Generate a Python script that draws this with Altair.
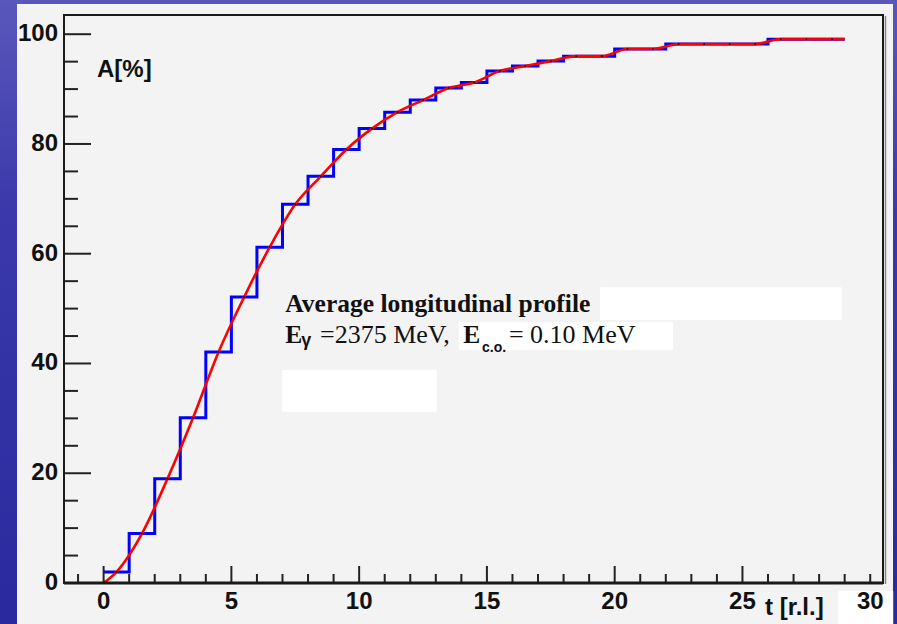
import altair as alt
import pandas as pd

# ---------------- data ----------------
bin_lo = list(range(0, 29))                      # lower bin edges (width 1 r.l.)
hist_a = [2.0, 9.0, 19.0, 30.1, 42.1, 52.1, 61.2, 69.0, 74.1, 79.0,
          82.8, 85.8, 88.0, 90.2, 91.2, 93.3, 94.2, 95.1, 96.0, 96.0,
          97.3, 97.3, 98.2, 98.2, 98.2, 98.2, 99.1, 99.1, 99.1]

curve_t = [0.0, 0.5, 1.5, 2.5, 3.5, 4.5, 5.5, 6.5, 7.5, 8.5, 9.5, 10.5,
           11.5, 12.5, 13.5, 14.5, 15.5, 16.5, 17.5, 18.5, 19.5, 20.5,
           21.5, 22.5, 23.5, 24.5, 25.5, 26.5, 27.5, 28.5, 29.0]
curve_a = [0.0, 2.0, 9.0, 19.0, 30.1, 42.1, 52.1, 61.2, 69.0, 74.1, 79.0,
           82.8, 85.8, 88.0, 90.2, 91.2, 93.3, 94.2, 95.1, 96.0, 96.0,
           97.3, 97.3, 98.2, 98.2, 98.2, 98.2, 99.1, 99.1, 99.1, 99.1]

x_labels = [0, 5, 10, 15, 20, 25, 30]
x_major = [0, 5, 10, 15, 20, 25]
x_minor = [-1, 1, 2, 3, 4, 6, 7, 8, 9, 11, 12, 13, 14, 16, 17, 18, 19,
           21, 22, 23, 24, 26, 27, 28, 29, 30]
y_major = [0, 20, 40, 60, 80, 100]
y_minor = [5, 10, 15, 25, 30, 35, 45, 50, 55, 65, 70, 75, 85, 90, 95]
x_title = "t [r.l.]"
y_title = "A[%]"

# annotation text pieces
ann_text = ["Average longitudinal profile", "E", "γ", "=2375 MeV,", "E", "c.o.", "= 0.10 MeV"]
ann_t = [7.11, 7.11, 7.73, 8.47, 14.07, 14.81, 15.86]
ann_a = [49.38, 43.68, 43.19, 43.68, 43.68, 42.15, 43.68]
ann_kind = ["serifbold", "serifbold", "sansbold", "serif", "serifbold", "sanssub", "serif"]

# white patches seen in the picture
patch_t1 = [19.43, 6.99, 13.90, 28.74]
patch_t2 = [28.89, 13.04, 22.28, 30.90]
patch_a1 = [53.88, 38.81, 47.56, -1.46]
patch_a2 = [47.92, 31.21, 42.46, -7.47]

# ---------------- chart ----------------
W, H = 819, 568
xs = alt.Scale(domain=[-1.55, 30.5], nice=False, zero=False)
ys = alt.Scale(domain=[0, 103.5], nice=False, zero=False)
LABEL_FONT = "Liberation Sans"
INK = "#111111"

one = pd.DataFrame({"k": [0]})

bg = alt.Chart(one).mark_rect(
    color=alt.Gradient(
        gradient="linear", x1=0, y1=0, x2=0, y2=1,
        stops=[alt.GradientStop(color="#5a57bb", offset=0),
               alt.GradientStop(color="#3a38aa", offset=0.35),
               alt.GradientStop(color="#2a2a9e", offset=1)])
).encode(x=alt.value(-64), x2=alt.value(W + 14), y=alt.value(-15), y2=alt.value(H + 41))

panel = alt.Chart(one).mark_rect(color="#f3f3f3").encode(
    x=alt.value(-47), x2=alt.value(829), y=alt.value(-11), y2=alt.value(H + 41))

patches = alt.Chart(pd.DataFrame({"t1": patch_t1, "t2": patch_t2,
                                  "a1": patch_a1, "a2": patch_a2})).mark_rect(color="#ffffff").encode(
    x=alt.X("t1:Q", scale=xs, axis=None), x2="t2:Q",
    y=alt.Y("a1:Q", scale=ys, axis=None), y2="a2:Q")

hist_df = pd.DataFrame({"t": bin_lo + [29], "a": hist_a + [hist_a[-1]]})
hist = alt.Chart(hist_df).mark_line(color="#0000ff", strokeWidth=3, interpolate="step-after").encode(
    x=alt.X("t:Q", scale=xs, axis=None), y=alt.Y("a:Q", scale=ys, axis=None))

curve = alt.Chart(pd.DataFrame({"t": curve_t, "a": curve_a})).mark_line(
    color="#ff0000", strokeWidth=2.6, interpolate="monotone").encode(
    x=alt.X("t:Q", scale=xs, axis=None), y=alt.Y("a:Q", scale=ys, axis=None))

dots = alt.Chart(pd.DataFrame({"t": curve_t[1:-1], "a": curve_a[1:-1]})).mark_square(
    color=INK, size=3, opacity=0.9).encode(
    x=alt.X("t:Q", scale=xs, axis=None), y=alt.Y("a:Q", scale=ys, axis=None))

tick_col = "#222222"
ymaj = alt.Chart(pd.DataFrame({"v": y_major})).mark_rule(color=tick_col, strokeWidth=2).encode(
    y=alt.Y("v:Q", scale=ys, axis=None), x=alt.value(0), x2=alt.value(27))
ymin = alt.Chart(pd.DataFrame({"v": y_minor})).mark_rule(color=tick_col, strokeWidth=2).encode(
    y=alt.Y("v:Q", scale=ys, axis=None), x=alt.value(0), x2=alt.value(14))
xmaj = alt.Chart(pd.DataFrame({"v": x_major})).mark_rule(color=tick_col, strokeWidth=2).encode(
    x=alt.X("v:Q", scale=xs, axis=None), y=alt.value(H), y2=alt.value(H - 17))
xmin = alt.Chart(pd.DataFrame({"v": x_minor})).mark_rule(color=tick_col, strokeWidth=2).encode(
    x=alt.X("v:Q", scale=xs, axis=None), y=alt.value(H), y2=alt.value(H - 9))

# tick labels drawn through the scales
ylab = alt.Chart(pd.DataFrame({"v": y_major})).mark_text(
    align="right", baseline="middle", font=LABEL_FONT, fontWeight="bold",
    fontSize=24, color=INK).encode(
    y=alt.Y("v:Q", scale=ys, axis=None), x=alt.value(-6), text="v:Q")
xlab = alt.Chart(pd.DataFrame({"v": x_labels})).mark_text(
    align="center", baseline="top", font=LABEL_FONT, fontWeight="bold",
    fontSize=24, color=INK).encode(
    x=alt.X("v:Q", scale=xs, axis=None), y=alt.value(H + 7), text="v:Q")

ytitle = alt.Chart(pd.DataFrame({"s": [y_title]})).mark_text(
    align="left", baseline="alphabetic", font=LABEL_FONT, fontWeight="bold",
    fontSize=24, color=INK).encode(x=alt.value(33), y=alt.value(62), text="s:N")
xtitle = alt.Chart(pd.DataFrame({"s": [x_title]})).mark_text(
    align="left", baseline="alphabetic", font=LABEL_FONT, fontWeight="bold",
    fontSize=24, color=INK).encode(x=alt.value(701), y=alt.value(H + 32), text="s:N")

frame = alt.Chart(one).mark_rect(filled=False, stroke="#1a1a1a", strokeWidth=2).encode(
    x=alt.value(0), x2=alt.value(W), y=alt.value(0), y2=alt.value(H))
bottom_line = alt.Chart(one).mark_rule(color="#1a1a1a", strokeWidth=3).encode(
    x=alt.value(0), x2=alt.value(W), y=alt.value(H))
right_shadow = alt.Chart(one).mark_rule(color="#888888", strokeWidth=1.5).encode(
    x=alt.value(W + 2.5), y=alt.value(1), y2=alt.value(H + 1))

ann_df = pd.DataFrame({"t": ann_t, "a": ann_a, "txt": ann_text, "kind": ann_kind})
def ann_layer(kind, **kw):
    return alt.Chart(ann_df).transform_filter(alt.datum.kind == kind).mark_text(
        align="left", baseline="alphabetic", color=INK, **kw).encode(
        x=alt.X("t:Q", scale=xs, axis=None), y=alt.Y("a:Q", scale=ys, axis=None), text="txt:N")

t_serifbold = ann_layer("serifbold", font="Liberation Serif", fontWeight="bold", fontSize=25.5)
t_serif = ann_layer("serif", font="Liberation Serif", fontWeight="normal", fontSize=26)
t_gamma = ann_layer("sansbold", font="Liberation Sans", fontWeight="bold", fontSize=18)
t_sub = ann_layer("sanssub", font="Liberation Sans", fontWeight="bold", fontSize=14)

chart = alt.layer(
    bg, panel, patches, hist, curve, dots, ymaj, ymin, xmaj, xmin,
    right_shadow, frame, bottom_line, ylab, xlab, ytitle, xtitle,
    t_serifbold, t_serif, t_gamma, t_sub
).properties(
    width=W, height=H,
    autosize=alt.AutoSizeParams(type="none"),
    padding={"left": 64, "top": 15, "right": 14, "bottom": 41},
    background="#2a2a9e",
).configure_view(stroke=None)

chart.save("out.html", embed_options={"renderer": "svg", "actions": False})
